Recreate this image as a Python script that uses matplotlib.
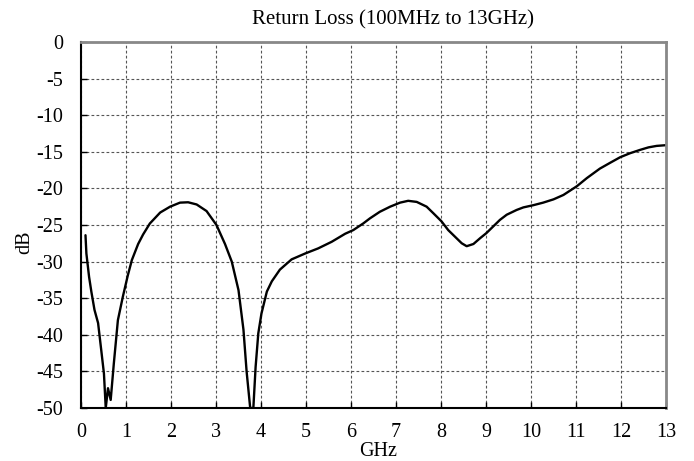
import numpy as np
import matplotlib.pyplot as plt

# Return loss trace (GHz, dB)
freq_ghz = [0.10, 0.12, 0.18, 0.23, 0.30, 0.38, 0.45, 0.51, 0.55, 0.60, 0.66, 0.73,
            0.82, 0.93, 1.04, 1.13, 1.27, 1.38, 1.53, 1.76, 1.98, 2.20, 2.38,
            2.57, 2.79, 3.01, 3.20, 3.35, 3.50, 3.61, 3.68, 3.76, 3.83, 3.88,
            3.94, 4.01, 4.13, 4.24, 4.42, 4.68, 4.98, 5.27, 5.57, 5.87, 6.05,
            6.27, 6.42, 6.64, 6.87, 7.09, 7.27, 7.46, 7.68, 7.83, 8.01, 8.16,
            8.31, 8.46, 8.57, 8.72, 8.87, 9.01, 9.16, 9.31, 9.46, 9.68, 9.83,
            10.05, 10.27, 10.50, 10.72, 11.02, 11.24, 11.53, 11.76, 11.98, 12.20,
            12.42, 12.61, 12.79, 13.00]
return_loss_db = [-26.4, -28.9, -32.1, -34.1, -36.6, -38.4, -42.1, -45.3, -50.0, -47.3, -48.9, -43.9,
                  -38.0, -34.8, -31.9, -29.8, -27.6, -26.3, -24.8, -23.3, -22.5, -21.95, -21.9,
                  -22.2, -23.1, -25.0, -27.6, -30.0, -33.9, -39.3, -45.0, -50.0, -50.0, -44.4,
                  -39.8, -37.1, -34.1, -32.7, -31.1, -29.7, -28.9, -28.2, -27.3, -26.2, -25.7,
                  -24.8, -24.1, -23.2, -22.5, -21.95, -21.7, -21.85, -22.5, -23.4, -24.5, -25.7,
                  -26.6, -27.5, -27.9, -27.6, -26.8, -26.1, -25.2, -24.3, -23.6, -22.95, -22.6,
                  -22.3, -21.95, -21.5, -20.9, -19.7, -18.6, -17.3, -16.5, -15.75, -15.2,
                  -14.75, -14.4, -14.2, -14.1]

x_ticks = np.arange(0, 14, 1)
y_ticks = np.arange(-50, 1, 5)

plt.rcParams['font.family'] = ['Liberation Serif', 'DejaVu Serif']
plt.rcParams['axes.unicode_minus'] = False

fig = plt.figure(figsize=(6.94, 4.61), dpi=100)
ax = fig.add_axes([0.1167, 0.115, 0.843, 0.794])

ax.plot(freq_ghz, return_loss_db, color='black', lw=1.7,
        solid_joinstyle='round', solid_capstyle='round')

ax.set_xlim(0, 13)
ax.set_ylim(-50, 0)
ax.set_xticks(x_ticks)
ax.set_yticks(y_ticks)
ax.grid(True, color='#555555', linestyle=(0, (2.5, 2)), linewidth=0.8)
ax.tick_params(direction='in', length=4, width=1, labelsize=14.5, color='black')
ax.tick_params(axis='y', pad=13)
ax.tick_params(axis='x', pad=11)

for side in ['left', 'bottom']:
    ax.spines[side].set_color('black')
    ax.spines[side].set_linewidth(1.5)
for side in ['top', 'right']:
    ax.spines[side].set_color('#888888')
    ax.spines[side].set_linewidth(2)

fig.text(0.566, 0.957, 'Return Loss (100MHz to 13GHz)', ha='center', va='center', fontsize=15)
fig.text(0.545, 0.02, 'GHz', ha='center', va='center', fontsize=14.5)
fig.text(0.036, 0.475, 'dB', ha='center', va='center', rotation=90, fontsize=14.5)

fig.savefig('out.png', dpi=100)
